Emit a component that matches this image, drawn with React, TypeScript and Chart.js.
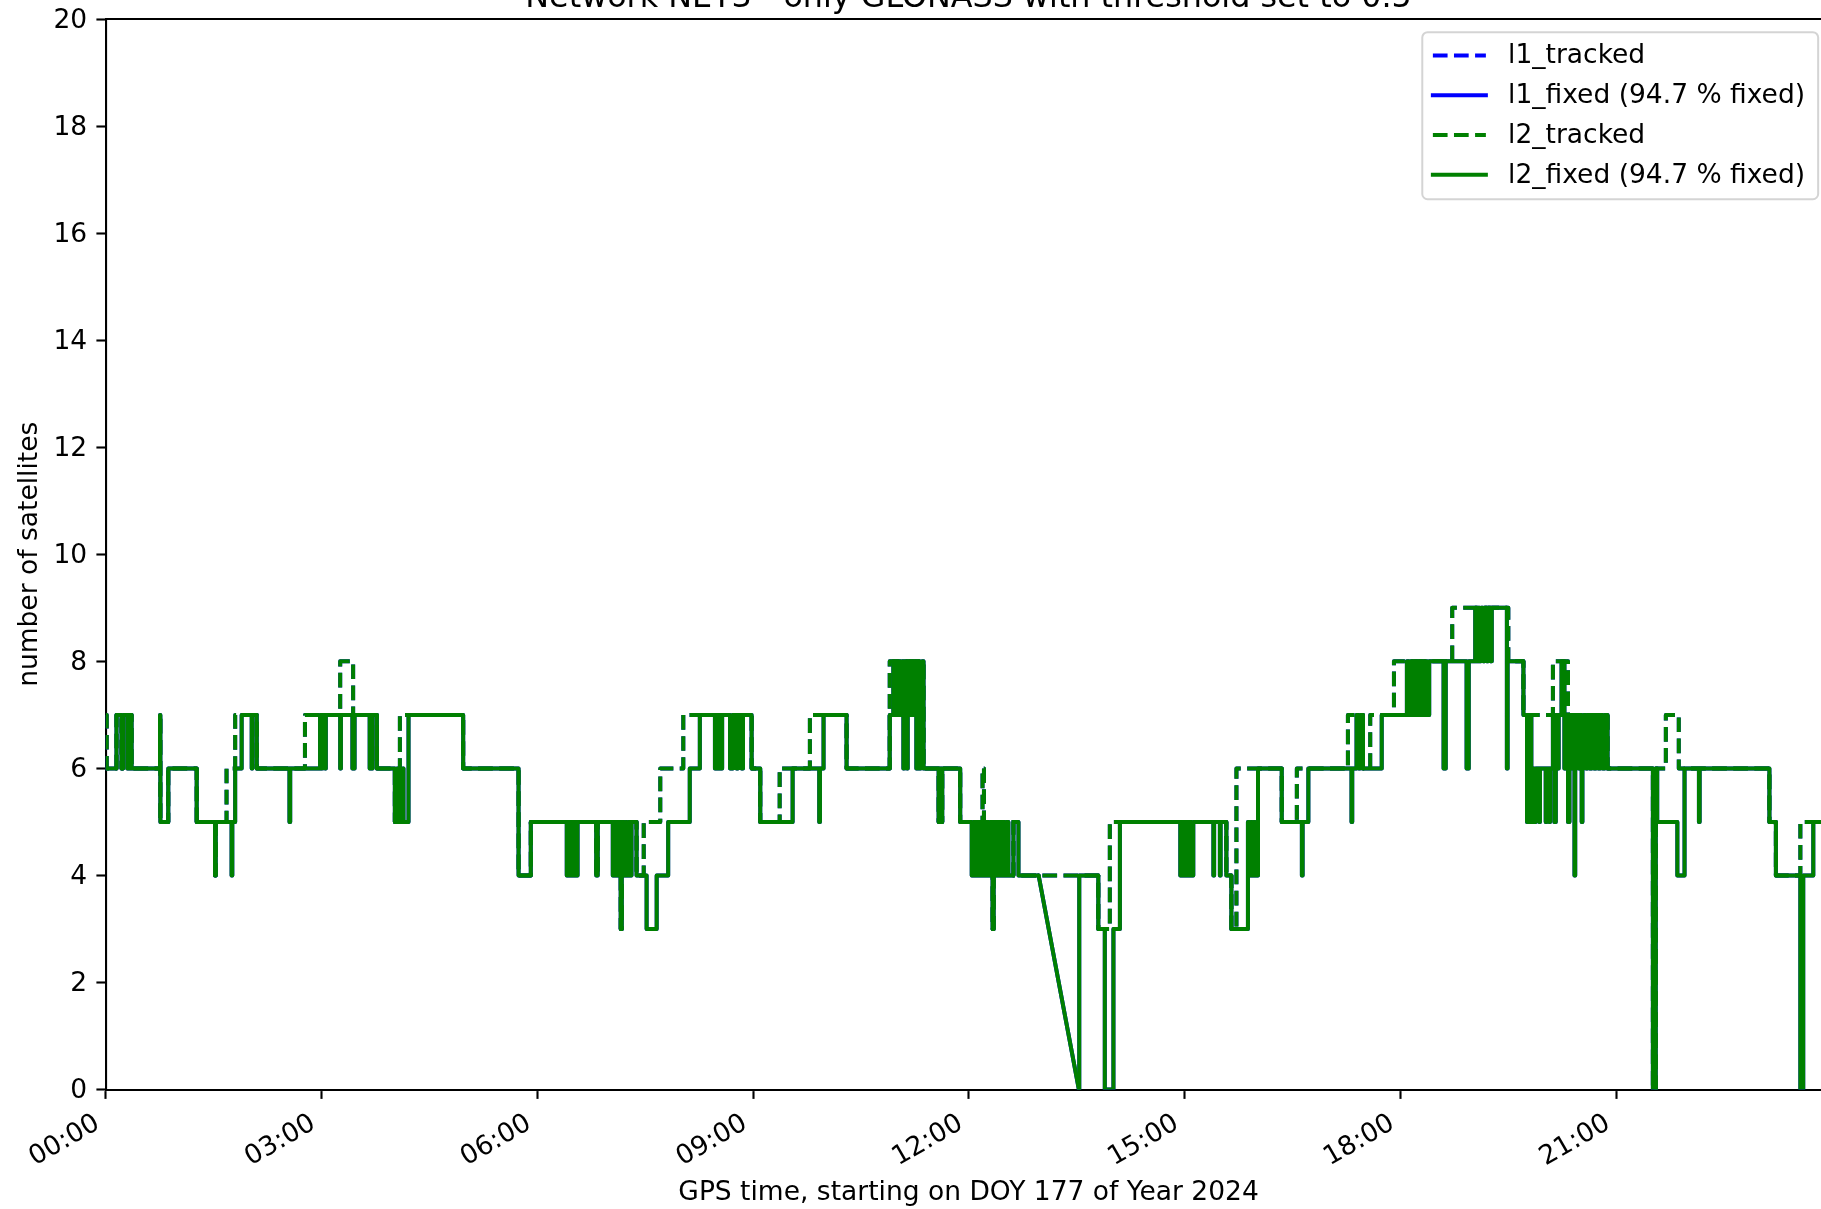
import React, { useEffect, useRef } from 'react';
import { Chart, registerables } from 'chart.js';

Chart.register(...registerables);

// ---------------- text ----------------
const TITLE = 'Network NET3 - only GLONASS with threshold set to 0.5';
const X_LABEL = 'GPS time, starting on DOY 177 of Year 2024';
const Y_LABEL = 'number of satellites';
const SERIES_LABELS = ['l1_tracked', 'l1_fixed (94.7 % fixed)', 'l2_tracked', 'l2_fixed (94.7 % fixed)'];

// ---------------- axes ----------------
const X_TICK_HOURS = [0, 3, 6, 9, 12, 15, 18, 21];
const X_MIN_HOURS = 0;
const X_MAX_HOURS = 23.9917;
const Y_MIN = 0;
const Y_MAX = 20;
const Y_STEP = 2;

// ---------------- data ----------------
// [hour of day, number of satellites]; the value holds until the next entry; null = data gap
const TRACKED_STEPS: [number, number | null][] = [
  [0.0, 7], [0.015, 6], [0.15, 7], [0.22, 6], [0.24, 7], [0.36, 6], [0.755, 7], [0.76, 5], [0.87, 6],
  [1.265, 5], [1.52, 4], [1.53, 5], [1.68, 6], [1.8, 7], [2.1, 6], [2.77, 7], [3.26, 8], [3.44, 7],
  [3.77, 6], [4.02, 5], [4.09, 7], [4.97, 6], [5.74, 4], [5.91, 5], [6.82, 4], [6.84, 5], [7.16, 3],
  [7.175, 5], [7.38, 4], [7.48, 5], [7.71, 6], [8.03, 7], [8.98, 6], [9.1, 5], [9.37, 6], [9.79, 7],
  [10.3, 6], [10.9, 8], [11.37, 6], [11.58, 5], [11.59, 6], [11.62, 5], [11.63, 6], [11.88, 5],
  [12.19, 6], [12.21, 5], [12.33, 3], [12.345, 5], [12.62, 4], [13.8, 3], [13.96, 5], [15.58, 4],
  [15.65, 3], [15.72, 6], [16.35, 5], [16.56, 6], [17.27, 7], [17.48, 6], [17.58, 7], [17.91, 8],
  [18.72, 9], [19.5, 8], [19.71, 7], [20.12, 8], [20.33, 7], [20.88, 6], [21.51, 0], [21.55, 6],
  [21.69, 7], [21.87, 6], [23.13, 5], [23.22, 4], [23.56, 5], [23.99, 5],
];

const FIXED_STEPS: [number, number | null][] = [
  [0.0, 6], [0.15, 7], [0.22, 6], [0.24, 7], [0.3, 6], [0.31, 7], [0.33, 6], [0.345, 7], [0.36, 6],
  [0.755, 7], [0.76, 5], [0.87, 6], [1.265, 5], [1.52, 4], [1.53, 5], [1.75, 4], [1.76, 5], [1.8, 6],
  [1.89, 7], [2.03, 6], [2.04, 7], [2.1, 6], [2.555, 5], [2.565, 6], [2.98, 7], [3.0, 6], [3.01, 7],
  [3.05, 6], [3.06, 7], [3.26, 6], [3.27, 7], [3.43, 6], [3.46, 7], [3.67, 6], [3.68, 7], [3.7, 6],
  [3.71, 7], [3.77, 6], [4.02, 5], [4.05, 6], [4.06, 5], [4.09, 6], [4.1, 5], [4.13, 6], [4.14, 5],
  [4.21, 7], [4.97, 6], [5.74, 4], [5.91, 5], [6.41, 4], [6.42, 5], [6.44, 4], [6.45, 5], [6.47, 4],
  [6.48, 5], [6.5, 4], [6.51, 5], [6.53, 4], [6.56, 5], [6.82, 4], [6.84, 5], [7.05, 4], [7.07, 5],
  [7.09, 4], [7.11, 5], [7.13, 4], [7.16, 3], [7.175, 4], [7.19, 5], [7.21, 4], [7.23, 5], [7.25, 4],
  [7.27, 5], [7.29, 4], [7.31, 5], [7.38, 4], [7.52, 3], [7.66, 4], [7.82, 5], [8.12, 6], [8.26, 7],
  [8.47, 6], [8.49, 7], [8.51, 6], [8.53, 7], [8.55, 6], [8.57, 7], [8.68, 6], [8.72, 7], [8.77, 6],
  [8.79, 7], [8.84, 6], [8.86, 7], [8.98, 6], [9.1, 5], [9.55, 6], [9.92, 5], [9.93, 6], [9.98, 7],
  [10.3, 6], [10.9, 7], [10.95, 8], [10.97, 7], [10.99, 8], [11.01, 7], [11.03, 8], [11.05, 7],
  [11.07, 8], [11.09, 6], [11.1, 8], [11.14, 6], [11.15, 7], [11.17, 8], [11.19, 7], [11.21, 8],
  [11.23, 7], [11.25, 8], [11.27, 6], [11.29, 8], [11.31, 6], [11.33, 7], [11.35, 8], [11.37, 6],
  [11.58, 5], [11.59, 6], [11.62, 5], [11.63, 6], [11.88, 5], [12.04, 4], [12.06, 5], [12.08, 4],
  [12.1, 5], [12.12, 4], [12.14, 5], [12.16, 4], [12.18, 5], [12.2, 4], [12.22, 5], [12.24, 4],
  [12.26, 5], [12.28, 4], [12.3, 5], [12.33, 3], [12.345, 4], [12.37, 5], [12.39, 4], [12.42, 5],
  [12.44, 4], [12.47, 5], [12.5, 4], [12.52, 5], [12.55, 4], [12.62, 5], [12.69, 4], [12.97, 4],
  [12.975, null], [13.53, 0], [13.535, 4], [13.8, 3], [13.89, 0], [14.01, 3], [14.1, 5], [14.94, 4],
  [14.96, 5], [14.98, 4], [15.0, 5], [15.02, 4], [15.04, 5], [15.06, 4], [15.08, 5], [15.1, 4],
  [15.12, 5], [15.4, 4], [15.41, 5], [15.49, 4], [15.5, 5], [15.58, 4], [15.65, 3], [15.88, 5],
  [15.9, 4], [15.92, 5], [15.94, 4], [15.96, 5], [15.98, 4], [16.02, 6], [16.35, 5], [16.63, 4],
  [16.64, 5], [16.72, 6], [17.32, 5], [17.33, 6], [17.39, 7], [17.42, 6], [17.44, 7], [17.48, 6],
  [17.74, 7], [18.09, 8], [18.12, 7], [18.14, 8], [18.17, 7], [18.2, 8], [18.23, 7], [18.26, 8],
  [18.3, 7], [18.33, 8], [18.37, 7], [18.4, 8], [18.6, 6], [18.63, 8], [18.92, 6], [18.95, 8],
  [19.04, 9], [19.06, 8], [19.08, 9], [19.1, 8], [19.12, 9], [19.15, 8], [19.17, 9], [19.2, 8],
  [19.22, 9], [19.25, 8], [19.27, 9], [19.48, 6], [19.49, 8], [19.71, 7], [19.76, 5], [19.77, 6],
  [19.79, 5], [19.8, 7], [19.82, 5], [19.84, 6], [19.86, 5], [19.88, 6], [19.93, 5], [19.94, 6],
  [20.02, 5], [20.03, 6], [20.07, 5], [20.08, 6], [20.12, 7], [20.14, 5], [20.16, 7], [20.18, 6],
  [20.2, 7], [20.24, 8], [20.28, 6], [20.3, 7], [20.33, 5], [20.35, 7], [20.38, 6], [20.4, 7],
  [20.42, 4], [20.43, 6], [20.45, 7], [20.48, 6], [20.5, 7], [20.52, 5], [20.53, 6], [20.55, 7],
  [20.58, 6], [20.6, 7], [20.63, 6], [20.66, 7], [20.69, 6], [20.72, 7], [20.75, 6], [20.78, 7],
  [20.81, 6], [20.84, 7], [20.88, 6], [21.51, 0], [21.55, 6], [21.57, 5], [21.85, 4], [21.95, 6],
  [22.15, 5], [22.16, 6], [23.13, 5], [23.22, 4], [23.56, 0], [23.6, 4], [23.74, 5], [23.99, 5],
];

// L1 and L2 counts are identical in this network (both 94.7 % fixed)
const L1_TRACKED = TRACKED_STEPS;
const L1_FIXED = FIXED_STEPS;
const L2_TRACKED = TRACKED_STEPS;
const L2_FIXED = FIXED_STEPS;

// ---------------- style / layout ----------------
const FONT = 'DejaVu Sans';
const FS = 26.5;
const TITLE_FS = 31.8;
const BLUE = '#0000ff';
const GREEN = '#008000';
const LW = 4;
const DASH = [14.7, 6.4];
const SPINE = 2.1;
const TICK_LEN = 9.3;

const VIEW_W = 1821;
const CANVAS_W = 1850;
const CANVAS_H = 1209;
const PLOT_LEFT = 105.7;
const PLOT_TOP = 19;
const PLOT_RIGHT = 1831.4;
const PLOT_BOTTOM = 1089.6;

type Step = [number, number | null];

const toPoints = (steps: Step[]) => steps.map(([x, y]) => ({ x, y }));

// straight connection across a data gap (the last sample before joined to the first after)
const gapBridge = (steps: Step[]) => {
  const out: { x: number; y: number | null }[] = [];
  steps.forEach(([, y], i) => {
    if (y === null && i > 0 && i < steps.length - 1) {
      if (out.length) out.push({ x: steps[i][0], y: null });
      out.push({ x: steps[i - 1][0], y: steps[i - 1][1] });
      out.push({ x: steps[i + 1][0], y: steps[i + 1][1] });
    }
  });
  return out;
};

const series = (label: string, steps: Step[], color: string, dashed: boolean, order: number) => ({
  label,
  data: toPoints(steps),
  borderColor: color,
  backgroundColor: color,
  borderWidth: LW,
  borderDash: dashed ? DASH : [],
  borderCapStyle: dashed ? 'butt' : 'round',
  borderJoinStyle: 'round',
  stepped: 'before',
  pointRadius: 0,
  fill: false,
  spanGaps: false,
  order,
});

const bridge = (steps: Step[], color: string, order: number) => ({
  label: '',
  data: gapBridge(steps),
  borderColor: color,
  borderWidth: LW,
  borderCapStyle: 'round',
  borderJoinStyle: 'round',
  stepped: false,
  pointRadius: 0,
  fill: false,
  spanGaps: false,
  order,
});

const framePlugin = {
  id: 'mplFrame',
  afterDatasetsDraw(chart: any) {
    const { ctx, chartArea: a } = chart;
    ctx.save();
    ctx.strokeStyle = '#000';
    ctx.lineWidth = SPINE;
    ctx.beginPath();
    ctx.moveTo(a.left, a.top);
    ctx.lineTo(a.right, a.top);
    ctx.lineTo(a.right, a.bottom);
    ctx.stroke();
    ctx.restore();
  },
};

const titlePlugin = {
  id: 'mplTitle',
  afterDraw(chart: any) {
    const { ctx, chartArea: a } = chart;
    ctx.save();
    ctx.font = `${TITLE_FS}px "${FONT}"`;
    ctx.fillStyle = '#000';
    ctx.textAlign = 'center';
    ctx.textBaseline = 'alphabetic';
    ctx.fillText(TITLE, (a.left + a.right) / 2, a.top - 12);
    ctx.restore();
  },
};

const legendPlugin = {
  id: 'mplLegend',
  afterDraw(chart: any) {
    const { ctx, chartArea: a } = chart;
    const items = chart.data.datasets.filter((d: any) => d.label);
    ctx.save();
    ctx.font = `${FS}px "${FONT}"`;
    const textW = Math.max(...items.map((d: any) => ctx.measureText(d.label).width));
    const padL = 0.4 * FS;
    const padR = 0.4 * FS + 2.5;
    const handle = 2 * FS;
    const textPad = 0.8 * FS + 1;
    const rowStep = 1.5 * FS;
    const w = padL + handle + textPad + textW + padR;
    const h = 2 * 0.4 * FS + items.length * FS + (items.length - 1) * 0.5 * FS;
    const right = a.right - 0.5 * FS;
    const top = a.top + 0.5 * FS;
    const left = right - w;
    const r = 0.2 * FS;
    ctx.beginPath();
    ctx.moveTo(left + r, top);
    ctx.lineTo(left + w - r, top);
    ctx.arcTo(left + w, top, left + w, top + r, r);
    ctx.lineTo(left + w, top + h - r);
    ctx.arcTo(left + w, top + h, left + w - r, top + h, r);
    ctx.lineTo(left + r, top + h);
    ctx.arcTo(left, top + h, left, top + h - r, r);
    ctx.lineTo(left, top + r);
    ctx.arcTo(left, top, left + r, top, r);
    ctx.closePath();
    ctx.fillStyle = 'rgba(255,255,255,0.8)';
    ctx.fill();
    ctx.strokeStyle = 'rgba(204,204,204,0.85)';
    ctx.lineWidth = 2;
    ctx.stroke();
    items.forEach((d: any, i: number) => {
      const cy = top + 0.8 * FS + 2 + i * rowStep;
      const dashed = (d.borderDash || []).length > 0;
      ctx.beginPath();
      ctx.setLineDash(d.borderDash || []);
      ctx.lineDashOffset = 0;
      ctx.strokeStyle = d.borderColor;
      ctx.lineWidth = d.borderWidth;
      ctx.lineCap = dashed ? 'butt' : 'square';
      ctx.moveTo(left + padL, cy);
      ctx.lineTo(left + padL + handle, cy);
      ctx.stroke();
      ctx.setLineDash([]);
      ctx.fillStyle = '#000';
      ctx.textAlign = 'left';
      ctx.textBaseline = 'middle';
      ctx.fillText(d.label, left + padL + handle + textPad, cy + 1);
    });
    ctx.restore();
  },
};

const tickFont = { family: FONT, size: FS };

const axisGrid = {
  display: true,
  drawOnChartArea: false,
  drawTicks: true,
  tickLength: TICK_LEN,
  tickWidth: SPINE,
  tickColor: '#000',
};

export default function App() {
  const ref = useRef<HTMLCanvasElement>(null);

  useEffect(() => {
    document.body.style.margin = '0';
    const canvas = ref.current;
    if (!canvas) return;
    Chart.defaults.font.family = FONT;
    const chart = new Chart(canvas, {
      type: 'line',
      data: {
        datasets: [
          series(SERIES_LABELS[0], L1_TRACKED, BLUE, true, 6),
          series(SERIES_LABELS[1], L1_FIXED, BLUE, false, 5),
          series(SERIES_LABELS[2], L2_TRACKED, GREEN, true, 3),
          series(SERIES_LABELS[3], L2_FIXED, GREEN, false, 1),
          bridge(L1_FIXED, BLUE, 4),
          bridge(L2_FIXED, GREEN, 0),
        ] as any,
      },
      options: {
        animation: false,
        responsive: false,
        maintainAspectRatio: false,
        devicePixelRatio: 1,
        events: [],
        layout: {
          autoPadding: false,
          padding: { left: 0, top: PLOT_TOP, right: CANVAS_W - PLOT_RIGHT, bottom: 0 },
        },
        plugins: {
          legend: { display: false },
          title: { display: false },
          tooltip: { enabled: false },
        },
        elements: { point: { radius: 0 }, line: { tension: 0 } },
        scales: {
          x: {
            type: 'linear',
            min: X_MIN_HOURS,
            max: X_MAX_HOURS,
            z: 1,
            afterBuildTicks: (scale: any) => {
              scale.ticks = X_TICK_HOURS.map((v) => ({ value: v }));
            },
            afterFit: (scale: any) => {
              scale.height = CANVAS_H - PLOT_BOTTOM;
              scale.paddingLeft = 0;
              scale.paddingRight = 0;
            },
            ticks: {
              autoSkip: false,
              minRotation: 30,
              maxRotation: 30,
              labelOffset: -8,
              padding: 9,
              color: '#000',
              font: tickFont,
              callback: (v: any) => `${String(v).padStart(2, '0')}:00`,
            },
            grid: axisGrid,
            border: { display: true, color: '#000', width: SPINE },
            title: {
              display: true,
              text: X_LABEL,
              color: '#000',
              font: tickFont,
              padding: { top: 0, bottom: 0 },
            },
          },
          y: {
            min: Y_MIN,
            max: Y_MAX,
            z: 1,
            afterFit: (scale: any) => {
              scale.width = PLOT_LEFT;
              scale.paddingTop = 0;
              scale.paddingBottom = 0;
            },
            ticks: {
              stepSize: Y_STEP,
              padding: TICK_LEN,
              labelOffset: 2,
              color: '#000',
              font: tickFont,
            },
            grid: axisGrid,
            border: { display: true, color: '#000', width: SPINE },
            title: {
              display: true,
              text: Y_LABEL,
              color: '#000',
              font: tickFont,
              padding: { top: 14, bottom: 0 },
            },
          },
        },
      } as any,
      plugins: [framePlugin, legendPlugin, titlePlugin],
    });
    return () => chart.destroy();
  }, []);

  return (
    <div
      style={{
        position: 'absolute',
        left: 0,
        top: 0,
        width: VIEW_W,
        height: CANVAS_H,
        overflow: 'hidden',
        background: '#fff',
      }}
    >
      <canvas
        ref={ref}
        width={CANVAS_W}
        height={CANVAS_H}
        style={{ display: 'block', width: CANVAS_W, height: CANVAS_H }}
      />
    </div>
  );
}
